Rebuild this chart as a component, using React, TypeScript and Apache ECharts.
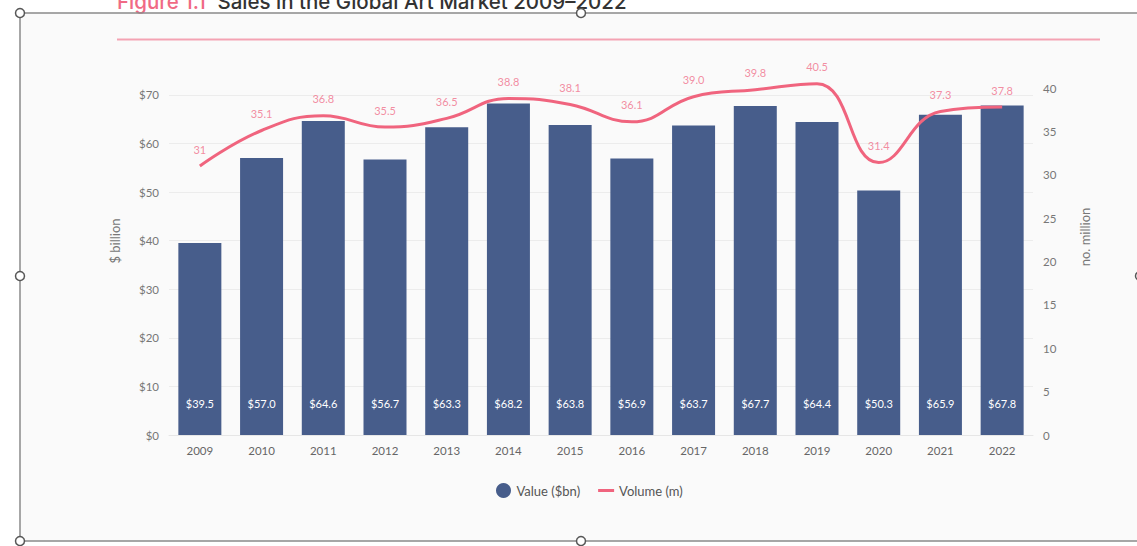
import React, { useEffect, useRef } from "react";
import * as echarts from "echarts";

const years = ["2009", "2010", "2011", "2012", "2013", "2014", "2015", "2016", "2017", "2018", "2019", "2020", "2021", "2022"];
const valueBn = [39.5, 57.0, 64.6, 56.7, 63.3, 68.2, 63.8, 56.9, 63.7, 67.7, 64.4, 50.3, 65.9, 67.8];
const volumeM = [31, 35.1, 36.8, 35.5, 36.5, 38.8, 38.1, 36.1, 39.0, 39.8, 40.5, 31.4, 37.3, 37.8];
const volumeLabels = ["31", "35.1", "36.8", "35.5", "36.5", "38.8", "38.1", "36.1", "39.0", "39.8", "40.5", "31.4", "37.3", "37.8"];
const valueLabels = ["$39.5", "$57.0", "$64.6", "$56.7", "$63.3", "$68.2", "$63.8", "$56.9", "$63.7", "$67.7", "$64.4", "$50.3", "$65.9", "$67.8"];
const seriesNames = ["Value ($bn)", "Volume (m)"];
const titleParts = ["Figure 1.1", " Sales in the Global Art Market 2009–2022"];
const axisNames = ["$ billion", "no. million"];

const BLUE = "#475d8b";
const PINK = "#f0647e";
const FONT = "Lato, 'Noto Sans', sans-serif";

export default function App() {
  const ref = useRef<HTMLDivElement>(null);
  useEffect(() => {
    document.body.style.margin = "0";
    const chart = echarts.init(ref.current!, null, { renderer: "svg" });
    const handle = (x: number, y: number) => ({
      type: "circle",
      shape: { cx: x, cy: y, r: 4.5 },
      style: { fill: "#fff", stroke: "#555", lineWidth: 1.5 },
      z: 100,
    });
    chart.setOption({
      animation: false,
      backgroundColor: "#ffffff",
      textStyle: { fontFamily: FONT },
      grid: { left: 169, right: 104, top: 88, bottom: 111 },
      legend: {
        left: 491,
        top: 478,
        itemWidth: 16,
        itemHeight: 15,
        itemGap: 18,
        textStyle: { fontSize: 13, color: "#555", fontFamily: FONT },
        data: [
          { name: seriesNames[0], icon: "circle" },
          { name: seriesNames[1], icon: "path://M0,0L16,0L16,3L0,3Z", itemStyle: { color: PINK } },
        ],
      },
      xAxis: {
        type: "category",
        data: years,
        axisTick: { show: false },
        axisLine: { lineStyle: { color: "#e6e6e6" } },
        axisLabel: { color: "#666", fontSize: 11.5, margin: 9 },
      },
      yAxis: [
        {
          type: "value",
          min: 0,
          max: 71.4,
          interval: 10,
          axisLabel: {
            color: "#777",
            fontSize: 11.5,
            margin: 10,
            showMaxLabel: false,
            formatter: (v: number) => (v % 10 === 0 ? "$" + v : ""),
          },
          splitLine: { lineStyle: { color: "#ececec" }, showMaxLine: false },
          axisLine: { show: false },
          axisTick: { show: false },
        },
        {
          type: "value",
          min: 0,
          max: 40,
          interval: 5,
          axisLabel: { color: "#777", fontSize: 11.5, margin: 10 },
          splitLine: { show: false },
          axisLine: { show: false },
          axisTick: { show: false },
        },
      ],
      series: [
        {
          name: seriesNames[0],
          type: "bar",
          data: valueBn,
          barWidth: 43,
          itemStyle: { color: BLUE },
          label: {
            show: true,
            position: "insideBottom",
            distance: 26,
            color: "#fff",
            fontSize: 11,
            formatter: (p: any) => valueLabels[p.dataIndex],
          },
          z: 2,
        },
        {
          name: seriesNames[1],
          type: "line",
          yAxisIndex: 1,
          data: volumeM,
          smooth: 0.45,
          symbol: "none",
          clip: false,
          lineStyle: { color: PINK, width: 3 },
          itemStyle: { color: PINK },
          z: 3,
        },
        {
          name: "volume-labels",
          type: "scatter",
          yAxisIndex: 1,
          data: volumeM,
          symbolSize: 1,
          clip: false,
          itemStyle: { color: "rgba(0,0,0,0)" },
          label: {
            show: true,
            position: "top",
            distance: 11,
            color: "#f0708a",
            fontSize: 11,
            formatter: (p: any) => volumeLabels[p.dataIndex],
          },
          z: 4,
        },
      ],
      graphic: {
        elements: [
          {
            type: "rect",
            shape: { x: 20, y: 13, width: 1117, height: 528 },
            style: { fill: "#fafafa" },
            z: -10,
            silent: true,
          },
          {
            type: "line",
            shape: { x1: 117, y1: 39.5, x2: 1100, y2: 39.5 },
            style: { stroke: "#f4a3b3", lineWidth: 2 },
            z: 1,
          },
          {
            type: "text",
            x: 117,
            y: 12,
            style: {
              text: titleParts[0],
              fill: "#f06a85",
              font: "500 20.5px Inter, 'Noto Sans', sans-serif",
              verticalAlign: "bottom",
            },
            z: 50,
          },
          {
            type: "text",
            x: 212,
            y: 12,
            style: {
              text: titleParts[1],
              fill: "#333",
              font: "500 20.5px Inter, 'Noto Sans', sans-serif",
              verticalAlign: "bottom",
            },
            z: 50,
          },
          {
            type: "text",
            x: 115,
            y: 241,
            rotation: Math.PI / 2,
            style: { text: axisNames[0], fill: "#777", font: `13px ${FONT}`, align: "center", verticalAlign: "middle" },
          },
          {
            type: "text",
            x: 1085,
            y: 237,
            rotation: Math.PI / 2,
            style: { text: axisNames[1], fill: "#777", font: `13px ${FONT}`, align: "center", verticalAlign: "middle" },
          },
          {
            type: "polyline",
            shape: { points: [[1137, 13], [20, 13], [20, 541], [1137, 541]] },
            style: { stroke: "#8a8a8a", lineWidth: 1.5, fill: null },
            z: 90,
          },
          handle(20, 13),
          handle(581, 13),
          handle(20, 276),
          handle(20, 541),
          handle(581, 541),
          handle(1140, 276),
        ],
      },
    });
    return () => chart.dispose();
  }, []);
  return <div ref={ref} style={{ width: 1137, height: 546 }} />;
}
